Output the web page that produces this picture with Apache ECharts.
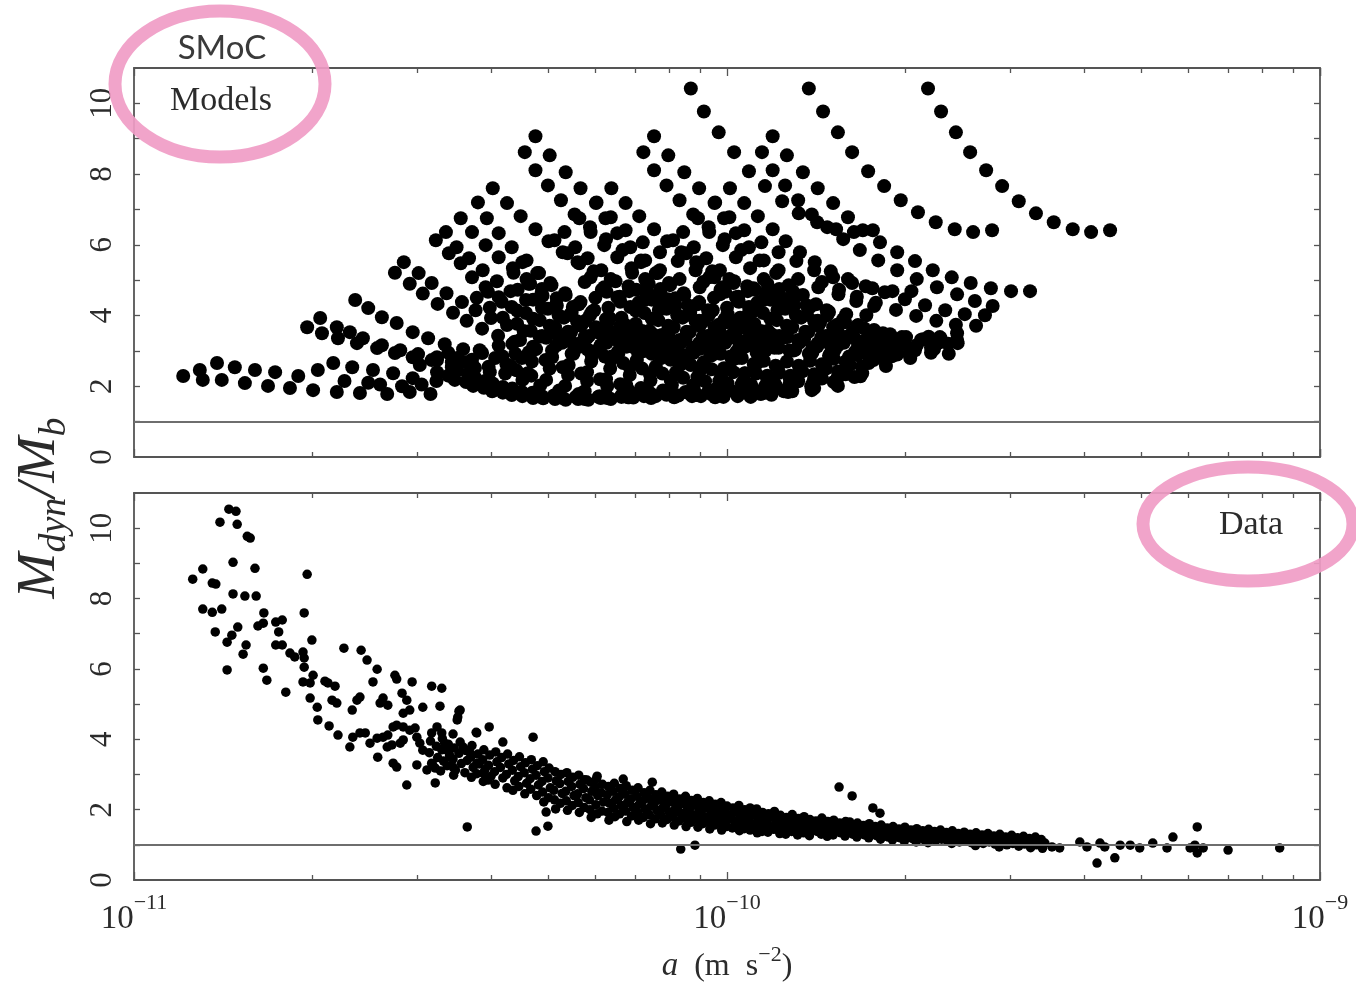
<!DOCTYPE html>
<html>
<head>
<meta charset="utf-8">
<script src="https://cdn.jsdelivr.net/npm/echarts@6/dist/echarts.min.js"></script>
<style>
  html, body { margin: 0; padding: 0; background: #ffffff; }
  #chart { width: 1356px; height: 985px; }
</style>
</head>
<body>
<div id="chart"></div>
<script>
// Each point is [log10(a / m s^-2), M_dyn / M_b].

// SMoC model sequences: the three highest tracks
const modelsHigh = [
  [-10.061,10.42],[-10.039,9.77],[-10.014,9.18],[-9.988,8.62],[-9.963,8.08],[-9.936,7.66],[-9.907,7.23],[-9.879,6.89],[-9.848,6.64],[-9.816,6.44],[-9.786,6.36],[-9.754,6.41],
  [-9.862,10.42],[-9.838,9.77],[-9.813,9.18],[-9.789,8.62],[-9.762,8.08],[-9.735,7.66],[-9.707,7.26],[-9.678,6.92],[-9.648,6.64],[-9.616,6.44],[-9.585,6.36],[-9.553,6.41],
  [-9.661,10.42],[-9.639,9.77],[-9.614,9.18],[-9.590,8.62],[-9.563,8.11],[-9.536,7.66],[-9.508,7.23],[-9.479,6.89],[-9.449,6.64],[-9.417,6.44],[-9.386,6.36],[-9.354,6.41]
];

// SMoC model sequences: right-hand family
const modelsFamilyR = [
  [-9.923,9.07],[-9.899,8.53],[-9.872,8.05],[-9.847,7.60],[-9.821,7.18],[-9.796,6.78],[-9.771,6.41],[-9.742,6.07],[-9.713,5.79],[-9.683,5.54],[-9.653,5.28],[-9.621,5.08],[-9.589,4.92],[-9.555,4.77],[-9.521,4.69],[-9.489,4.69],
  [-9.941,8.62],[-9.923,8.11],[-9.902,7.68],[-9.880,7.26],[-9.857,6.86],[-9.831,6.50],[-9.804,6.16],[-9.776,5.85],[-9.745,5.56],[-9.713,5.28],[-9.680,5.03],[-9.646,4.80],[-9.612,4.60],[-9.582,4.41],[-9.552,4.27],
  [-9.995,7.60],[-9.971,7.18],[-9.948,6.81],[-9.923,6.44],[-9.901,6.10],[-9.877,5.79],[-9.852,5.51],[-9.825,5.25],[-9.796,5.03],[-9.766,4.83],[-9.734,4.66],[-9.700,4.46],[-9.666,4.29],[-9.632,4.15],[-9.599,4.04],[-9.565,4.01],
  [-10.020,7.20],[-10.005,6.75],[-9.985,6.33],[-9.963,5.93],[-9.938,5.56],[-9.917,5.20],[-9.896,4.86],[-9.872,4.58],[-9.850,4.32],[-9.828,4.10],[-9.804,3.90],[-9.779,3.73],[-9.752,3.59],[-9.725,3.47],[-9.698,3.39],[-9.670,3.33],[-9.641,3.39],[-9.612,3.50],
  [-10.049,6.75],[-10.030,6.36],[-10.007,5.99],[-9.985,5.65],[-9.961,5.34],[-9.938,5.03],[-9.912,4.75],[-9.887,4.49],[-9.860,4.24],[-9.831,4.01],[-9.801,3.81],[-9.769,3.64],[-9.737,3.50],[-9.705,3.39],[-9.673,3.31],[-9.641,3.25],[-9.611,3.22],
  [-10.074,6.36],[-10.056,5.93],[-10.035,5.62],[-10.012,5.28],[-9.988,4.97],[-9.965,4.69],[-9.939,4.44],[-9.912,4.21],[-9.884,4.01],[-9.853,3.84],[-9.821,3.67],[-9.788,3.53],[-9.754,3.42],[-9.720,3.31],
  [-10.091,6.13],[-10.069,5.76],[-10.049,5.48],[-10.030,5.08],[-10.007,4.80],[-9.985,4.52],[-9.963,4.24],[-9.939,4.07],[-9.916,3.87],[-9.890,3.67],[-9.863,3.53],[-9.833,3.42],[-9.803,3.33],[-9.769,3.28],[-9.735,3.25],
  [-10.145,5.51],[-10.120,5.20],[-10.098,4.92],[-10.073,4.63],[-10.047,4.38],[-10.024,4.15],[-9.998,3.93],[-9.971,3.73],[-9.943,3.56],[-9.912,3.42],[-9.880,3.31],[-9.847,3.22],[-9.813,3.16],[-9.779,3.14],
  [-9.840,4.95],[-9.811,4.73],[-9.781,4.53],[-9.749,4.36],[-9.715,4.16],[-9.681,3.99],[-9.647,3.85],[-9.614,3.74],[-9.580,3.71],
  [-9.932,4.90],[-9.911,4.56],[-9.887,4.28],[-9.865,4.02],[-9.843,3.80],[-9.819,3.60],[-9.794,3.43],[-9.767,3.29],[-9.740,3.17],[-9.713,3.09],[-9.685,3.03],[-9.656,3.09],[-9.627,3.20],
  [-9.953,4.73],[-9.927,4.45],[-9.902,4.19],[-9.875,3.94],[-9.846,3.71],[-9.816,3.51],[-9.784,3.34],[-9.752,3.20],[-9.720,3.09],[-9.688,3.01],[-9.656,2.95],[-9.626,2.92],
  [-10.003,4.67],[-9.980,4.39],[-9.954,4.14],[-9.927,3.91],[-9.899,3.71],[-9.868,3.54],[-9.836,3.37],[-9.803,3.23],[-9.769,3.12],[-9.735,3.01],
  [-10.022,4.50],[-10.000,4.22],[-9.978,3.94],[-9.954,3.77],[-9.931,3.57],[-9.905,3.37],[-9.878,3.23],[-9.848,3.12],[-9.818,3.03],[-9.784,2.98],[-9.750,2.95],
  [-10.160,5.21],[-10.135,4.90],[-10.113,4.62],[-10.088,4.33],[-10.062,4.08],[-10.039,3.85],[-10.013,3.63],[-9.986,3.43],[-9.958,3.26],[-9.927,3.12],[-9.895,3.01],[-9.862,2.92],[-9.828,2.86],[-9.794,2.84]
];

// SMoC model sequences: middle family
const modelsFamilyM = [
  [-10.123,9.07],[-10.099,8.53],[-10.072,8.05],[-10.047,7.60],[-10.021,7.18],[-9.996,6.78],[-9.971,6.41],[-9.942,6.07],[-9.913,5.79],[-9.883,5.54],[-9.853,5.28],[-9.821,5.08],[-9.789,4.92],[-9.755,4.77],[-9.721,4.69],[-9.689,4.69],
  [-10.141,8.62],[-10.123,8.11],[-10.102,7.68],[-10.080,7.26],[-10.057,6.86],[-10.031,6.50],[-10.004,6.16],[-9.976,5.85],[-9.945,5.56],[-9.913,5.28],[-9.880,5.03],[-9.846,4.80],[-9.812,4.60],[-9.782,4.41],[-9.752,4.27],
  [-10.195,7.60],[-10.171,7.18],[-10.148,6.81],[-10.123,6.44],[-10.101,6.10],[-10.077,5.79],[-10.052,5.51],[-10.025,5.25],[-9.996,5.03],[-9.966,4.83],[-9.934,4.66],[-9.900,4.46],[-9.866,4.29],[-9.832,4.15],[-9.799,4.04],[-9.765,4.01],
  [-10.220,7.20],[-10.205,6.75],[-10.185,6.33],[-10.163,5.93],[-10.138,5.56],[-10.117,5.20],[-10.096,4.86],[-10.072,4.58],[-10.050,4.32],[-10.028,4.10],[-10.004,3.90],[-9.979,3.73],[-9.952,3.59],[-9.925,3.47],[-9.898,3.39],[-9.870,3.33],[-9.841,3.39],[-9.812,3.50],
  [-10.249,6.75],[-10.230,6.36],[-10.207,5.99],[-10.185,5.65],[-10.161,5.34],[-10.138,5.03],[-10.112,4.75],[-10.087,4.49],[-10.060,4.24],[-10.031,4.01],[-10.001,3.81],[-9.969,3.64],[-9.937,3.50],[-9.905,3.39],[-9.873,3.31],[-9.841,3.25],[-9.811,3.22],
  [-10.274,6.36],[-10.256,5.93],[-10.235,5.62],[-10.212,5.28],[-10.188,4.97],[-10.165,4.69],[-10.139,4.44],[-10.112,4.21],[-10.084,4.01],[-10.053,3.84],[-10.021,3.67],[-9.988,3.53],[-9.954,3.42],[-9.920,3.31],
  [-10.291,6.13],[-10.269,5.76],[-10.249,5.48],[-10.230,5.08],[-10.207,4.80],[-10.185,4.52],[-10.163,4.24],[-10.139,4.07],[-10.116,3.87],[-10.090,3.67],[-10.063,3.53],[-10.033,3.42],[-10.003,3.33],[-9.969,3.28],[-9.935,3.25],
  [-10.345,5.51],[-10.320,5.20],[-10.298,4.92],[-10.273,4.63],[-10.247,4.38],[-10.224,4.15],[-10.198,3.93],[-10.171,3.73],[-10.143,3.56],[-10.112,3.42],[-10.080,3.31],[-10.047,3.22],[-10.013,3.16],[-9.979,3.14],
  [-10.040,4.95],[-10.011,4.73],[-9.981,4.53],[-9.949,4.36],[-9.915,4.16],[-9.881,3.99],[-9.847,3.85],[-9.814,3.74],[-9.780,3.71],
  [-10.132,4.90],[-10.111,4.56],[-10.087,4.28],[-10.065,4.02],[-10.043,3.80],[-10.019,3.60],[-9.994,3.43],[-9.967,3.29],[-9.940,3.17],[-9.913,3.09],[-9.885,3.03],[-9.856,3.09],[-9.827,3.20],
  [-10.153,4.73],[-10.127,4.45],[-10.102,4.19],[-10.075,3.94],[-10.046,3.71],[-10.016,3.51],[-9.984,3.34],[-9.952,3.20],[-9.920,3.09],[-9.888,3.01],[-9.856,2.95],[-9.826,2.92],
  [-10.203,4.67],[-10.180,4.39],[-10.154,4.14],[-10.127,3.91],[-10.099,3.71],[-10.068,3.54],[-10.036,3.37],[-10.003,3.23],[-9.969,3.12],[-9.935,3.01],
  [-10.222,4.50],[-10.200,4.22],[-10.178,3.94],[-10.154,3.77],[-10.131,3.57],[-10.105,3.37],[-10.078,3.23],[-10.048,3.12],[-10.018,3.03],[-9.984,2.98],[-9.950,2.95],
  [-10.360,5.21],[-10.335,4.90],[-10.313,4.62],[-10.288,4.33],[-10.262,4.08],[-10.239,3.85],[-10.213,3.63],[-10.186,3.43],[-10.158,3.26],[-10.127,3.12],[-10.095,3.01],[-10.062,2.92],[-10.028,2.86],[-9.994,2.84]
];

// SMoC model sequences: left family
const modelsFamilyL = [
  [-10.323,9.07],[-10.299,8.53],[-10.272,8.05],[-10.247,7.60],[-10.221,7.18],[-10.196,6.78],[-10.171,6.41],[-10.142,6.07],[-10.113,5.79],[-10.083,5.54],[-10.053,5.28],[-10.021,5.08],[-9.989,4.92],[-9.955,4.77],[-9.921,4.69],[-9.889,4.69],
  [-10.341,8.62],[-10.323,8.11],[-10.302,7.68],[-10.280,7.26],[-10.257,6.86],[-10.231,6.50],[-10.204,6.16],[-10.176,5.85],[-10.145,5.56],[-10.113,5.28],[-10.080,5.03],[-10.046,4.80],[-10.012,4.60],[-9.982,4.41],[-9.952,4.27],
  [-10.395,7.60],[-10.371,7.18],[-10.348,6.81],[-10.323,6.44],[-10.301,6.10],[-10.277,5.79],[-10.252,5.51],[-10.225,5.25],[-10.196,5.03],[-10.166,4.83],[-10.134,4.66],[-10.100,4.46],[-10.066,4.29],[-10.032,4.15],[-9.999,4.04],[-9.965,4.01],
  [-10.420,7.20],[-10.405,6.75],[-10.385,6.33],[-10.363,5.93],[-10.338,5.56],[-10.317,5.20],[-10.296,4.86],[-10.272,4.58],[-10.250,4.32],[-10.228,4.10],[-10.204,3.90],[-10.179,3.73],[-10.152,3.59],[-10.125,3.47],[-10.098,3.39],[-10.070,3.33],[-10.041,3.39],[-10.012,3.50],
  [-10.449,6.75],[-10.430,6.36],[-10.407,5.99],[-10.385,5.65],[-10.361,5.34],[-10.338,5.03],[-10.312,4.75],[-10.287,4.49],[-10.260,4.24],[-10.231,4.01],[-10.201,3.81],[-10.169,3.64],[-10.137,3.50],[-10.105,3.39],[-10.073,3.31],[-10.041,3.25],[-10.011,3.22],
  [-10.474,6.36],[-10.456,5.93],[-10.435,5.62],[-10.412,5.28],[-10.388,4.97],[-10.365,4.69],[-10.339,4.44],[-10.312,4.21],[-10.284,4.01],[-10.253,3.84],[-10.221,3.67],[-10.188,3.53],[-10.154,3.42],[-10.120,3.31],
  [-10.491,6.13],[-10.469,5.76],[-10.449,5.48],[-10.430,5.08],[-10.407,4.80],[-10.385,4.52],[-10.363,4.24],[-10.339,4.07],[-10.316,3.87],[-10.290,3.67],[-10.263,3.53],[-10.233,3.42],[-10.203,3.33],[-10.169,3.28],[-10.135,3.25],
  [-10.545,5.51],[-10.520,5.20],[-10.498,4.92],[-10.473,4.63],[-10.447,4.38],[-10.424,4.15],[-10.398,3.93],[-10.371,3.73],[-10.343,3.56],[-10.312,3.42],[-10.280,3.31],[-10.247,3.22],[-10.213,3.16],[-10.179,3.14],
  [-10.240,4.95],[-10.211,4.73],[-10.181,4.53],[-10.149,4.36],[-10.115,4.16],[-10.081,3.99],[-10.047,3.85],[-10.014,3.74],[-9.980,3.71],
  [-10.332,4.90],[-10.311,4.56],[-10.287,4.28],[-10.265,4.02],[-10.243,3.80],[-10.219,3.60],[-10.194,3.43],[-10.167,3.29],[-10.140,3.17],[-10.113,3.09],[-10.085,3.03],[-10.056,3.09],[-10.027,3.20],
  [-10.353,4.73],[-10.327,4.45],[-10.302,4.19],[-10.275,3.94],[-10.246,3.71],[-10.216,3.51],[-10.184,3.34],[-10.152,3.20],[-10.120,3.09],[-10.088,3.01],[-10.056,2.95],[-10.026,2.92],
  [-10.403,4.67],[-10.380,4.39],[-10.354,4.14],[-10.327,3.91],[-10.299,3.71],[-10.268,3.54],[-10.236,3.37],[-10.203,3.23],[-10.169,3.12],[-10.135,3.01],
  [-10.422,4.50],[-10.400,4.22],[-10.378,3.94],[-10.354,3.77],[-10.331,3.57],[-10.305,3.37],[-10.278,3.23],[-10.248,3.12],[-10.218,3.03],[-10.184,2.98],[-10.150,2.95],
  [-10.560,5.21],[-10.535,4.90],[-10.513,4.62],[-10.488,4.33],[-10.462,4.08],[-10.439,3.85],[-10.413,3.63],[-10.386,3.43],[-10.358,3.26],[-10.327,3.12],[-10.295,3.01],[-10.262,2.92],[-10.228,2.86],[-10.194,2.84]
];

// SMoC model sequences: low-acceleration tail
const modelsTail = [
  [-10.917,2.29],[-10.889,2.46],[-10.884,2.18],[-10.860,2.66],[-10.852,2.18],[-10.830,2.54],[-10.813,2.09],[-10.796,2.46],[-10.774,2.01],[-10.762,2.40],[-10.737,1.95],[-10.723,2.29],[-10.698,1.89],[-10.690,2.46],[-10.664,2.66],[-10.658,1.84],[-10.632,2.54],[-10.619,1.81],[-10.597,2.46],[-10.573,1.78],[-10.563,2.37],[-10.535,1.84],[-10.530,2.23],
  [-10.645,2.15],[-10.605,2.10],[-10.585,2.05],[-10.548,2.00],[-10.515,2.05],[-10.500,1.78],[-10.490,2.15],
  [-10.708,3.67],[-10.683,3.50],[-10.656,3.36],[-10.624,3.22],[-10.590,3.08],[-10.560,2.94],[-10.530,2.82],[-10.498,2.74],[-10.464,2.68],[-10.430,2.63],
  [-10.686,3.93],[-10.658,3.67],[-10.636,3.53],[-10.614,3.36],[-10.582,3.16],[-10.551,3.02],[-10.521,2.91],[-10.489,2.82],
  [-10.627,4.44],[-10.605,4.21],[-10.582,3.95],[-10.557,3.79],[-10.530,3.53],[-10.504,3.36],[-10.476,3.19],[-10.445,3.05],[-10.413,2.94],[-10.379,2.85],[-10.346,2.80],
  [-10.470,2.95],[-10.455,2.80],[-10.440,2.68],[-10.425,2.52],[-10.400,2.40],[-10.372,2.62],[-10.355,2.45],[-10.330,2.30]
];

// SMoC model sequences: lowest band
const modelsLow = [
  [-10.518,2.60],[-10.489,2.40],[-10.459,2.18],[-10.428,2.01],[-10.396,1.86],[-10.363,1.75],[-10.327,1.67],[-10.290,1.64],[-10.251,1.64],[-10.213,1.67],[-10.174,1.72],[-10.135,1.81],[-10.096,1.89],
  [-10.489,2.74],[-10.464,2.54],[-10.437,2.34],[-10.408,2.15],[-10.378,1.98],[-10.346,1.84],[-10.312,1.72],[-10.277,1.67],[-10.240,1.64],[-10.202,1.67],[-10.165,1.69],
  [-10.417,3.02],[-10.391,2.80],[-10.364,2.57],[-10.336,2.37],[-10.305,2.18],[-10.273,2.01],[-10.240,1.86],[-10.204,1.75],[-10.167,1.69],[-10.128,1.67],[-10.089,1.69],[-10.051,1.75],[-10.012,1.84],
  [-10.349,3.31],[-10.322,3.05],[-10.295,2.82],[-10.267,2.60],[-10.236,2.40],[-10.204,2.20],[-10.170,2.03],[-10.135,1.89],[-10.098,1.78],[-10.059,1.72],[-10.020,1.69],[-9.982,1.72],[-9.943,1.78],[-9.904,1.86],
  [-10.282,3.45],[-10.255,3.19],[-10.226,2.97],[-10.196,2.74],[-10.164,2.54],[-10.130,2.34],[-10.095,2.18],[-10.057,2.03],[-10.019,1.92],[-9.978,1.84],[-9.938,1.81],[-9.897,1.84],[-9.857,1.89],
  [-10.197,3.45],[-10.170,3.22],[-10.142,2.99],[-10.111,2.80],[-10.079,2.60],[-10.046,2.43],[-10.010,2.26],[-9.973,2.12],[-9.934,2.01],[-9.894,1.95],[-9.853,1.95],[-9.813,2.01],
  [-10.130,3.31],[-10.101,3.08],[-10.071,2.88],[-10.039,2.68],[-10.005,2.51],[-9.970,2.37],[-9.933,2.26],[-9.894,2.20],[-9.853,2.20],[-9.813,2.26],[-9.772,2.37],[-9.732,2.57],[-9.691,2.80],[-9.651,3.05],[-9.612,3.31],
  [-10.046,3.16],[-10.015,2.97],[-9.983,2.80],[-9.949,2.66],[-9.914,2.54],[-9.877,2.49],[-9.838,2.49],[-9.799,2.54],[-9.761,2.66],[-9.722,2.85],[-9.683,3.02],[-9.644,3.22],
  [-10.455,2.45],[-10.425,2.25],[-10.395,2.08],[-10.362,1.94],[-10.328,1.82],[-10.292,1.74],[-10.255,1.70],[-10.217,1.70],[-10.178,1.74],[-10.140,1.78],
  [-10.385,3.15],[-10.357,2.92],[-10.329,2.70],[-10.299,2.50],[-10.268,2.32],[-10.236,2.15],[-10.202,2.00],[-10.166,1.88],[-10.129,1.80],[-10.091,1.76],[-10.052,1.76],[-10.013,1.78],[-9.975,1.82],
  [-10.316,3.40],[-10.288,3.15],[-10.259,2.92],[-10.229,2.70],[-10.197,2.50],[-10.164,2.32],[-10.129,2.16],[-10.093,2.03],[-10.056,1.93],[-10.017,1.86],[-9.978,1.84],[-9.938,1.86],[-9.898,1.92],[-9.858,2.00],
  [-10.240,3.40],[-10.212,3.16],[-10.183,2.94],[-10.152,2.74],[-10.120,2.56],[-10.086,2.40],[-10.050,2.26],[-10.013,2.14],[-9.975,2.06],[-9.935,2.02],[-9.895,2.04],[-9.855,2.10],[-9.815,2.18],[-9.775,2.28],
  [-10.165,3.38],[-10.136,3.15],[-10.106,2.94],[-10.074,2.76],[-10.041,2.60],[-10.006,2.46],[-9.970,2.36],[-9.932,2.30],[-9.893,2.30],[-9.853,2.34],[-9.813,2.42],[-9.773,2.55],[-9.733,2.72],[-9.693,2.92],[-9.655,3.14],
  [-10.090,3.25],[-10.058,3.05],[-10.025,2.88],[-9.991,2.74],[-9.955,2.63],[-9.918,2.58],[-9.879,2.58],[-9.840,2.62],[-9.800,2.70],[-9.760,2.82],[-9.720,2.98],[-9.680,3.16],[-9.640,3.36],
  [-9.960,1.70],[-9.925,1.76],[-9.890,1.86],[-9.855,1.98],[-9.820,2.12],[-9.785,2.26],
  [-10.470,2.30],[-10.440,2.12],[-10.410,1.96],[-10.378,1.82],[-10.345,1.72],[-10.310,1.66],[-10.272,1.62],[-10.234,1.62],[-10.196,1.64],[-10.158,1.68],[-10.120,1.72],[-10.082,1.74],[-10.044,1.72],[-10.006,1.70],
  [-10.430,2.75],[-10.402,2.55],[-10.374,2.36],[-10.345,2.18],[-10.315,2.02],[-10.283,1.88],[-10.250,1.78],[-10.215,1.72],[-10.178,1.70],[-10.140,1.72],[-10.102,1.76],[-10.064,1.80],[-10.025,1.76],
  [-10.362,3.20],[-10.334,2.96],[-10.306,2.74],[-10.277,2.54],[-10.246,2.36],[-10.214,2.20],[-10.180,2.06],[-10.145,1.95],[-10.108,1.88],[-10.070,1.84],[-10.032,1.84],[-9.994,1.88],[-9.956,1.94],[-9.918,2.02],
  [-10.290,3.50],[-10.263,3.26],[-10.235,3.04],[-10.206,2.84],[-10.175,2.66],[-10.143,2.50],[-10.109,2.36],[-10.074,2.24],[-10.037,2.14],[-9.999,2.08],[-9.960,2.06],[-9.920,2.08],[-9.880,2.14],[-9.840,2.22],[-9.800,2.34],
  [-10.215,3.55],[-10.187,3.32],[-10.158,3.11],[-10.127,2.92],[-10.095,2.75],[-10.061,2.60],[-10.026,2.48],[-9.989,2.40],[-9.951,2.36],[-9.912,2.38],[-9.873,2.42],[-9.833,2.50],[-9.793,2.60],[-9.753,2.74],[-9.713,2.90],
  [-10.110,3.45],[-10.078,3.24],[-10.045,3.06],[-10.011,2.92],[-9.975,2.80],[-9.938,2.72],[-9.899,2.70],[-9.860,2.72],[-9.820,2.78],[-9.780,2.88],[-9.740,3.02],[-9.700,3.20],[-9.660,3.40]
];

// Observed galaxies: scattered points away from the main ridge
const dataSpread = [
  [-10.901,8.55],[-10.884,8.84],[-10.868,8.44],[-10.862,8.41],[-10.884,7.70],[-10.868,7.61],[-10.852,7.70],[-10.863,7.05],[-10.855,10.17],[-10.840,10.54],[-10.828,10.48],[-10.826,10.11],[-10.809,9.77],[-10.804,9.72],[-10.833,9.03],[-10.796,8.86],[-10.833,8.13],[-10.813,8.07],[-10.794,8.07],[-10.781,7.59],
  [-10.791,7.22],[-10.782,7.30],[-10.825,7.19],[-10.843,6.76],[-10.835,6.96],[-10.811,6.68],[-10.816,6.42],[-10.843,5.97],[-10.782,6.02],[-10.776,5.68],[-10.744,5.34],[-10.761,7.33],[-10.750,7.39],[-10.756,7.05],[-10.761,6.68],[-10.750,6.68],[-10.737,6.45],[-10.729,6.34],[-10.715,6.48],[-10.713,6.31],
  [-10.713,6.05],[-10.708,8.69],[-10.713,7.59],[-10.700,6.82],[-10.698,5.82],[-10.715,5.63],[-10.703,5.60],[-10.703,5.17],[-10.691,4.91],[-10.690,4.55],[-10.678,5.65],[-10.673,5.60],[-10.661,5.51],[-10.666,5.11],[-10.658,5.03],[-10.671,4.38],[-10.656,4.12],[-10.646,6.59],[-10.617,6.53],[-10.607,6.25],
  [-10.590,5.99],[-10.597,5.63],[-10.560,5.82],[-10.557,5.71],[-10.531,5.63],[-10.498,5.51],[-10.481,5.45],[-10.632,4.83],[-10.624,5.11],[-10.619,5.20],[-10.585,5.03],[-10.580,5.17],[-10.572,4.97],[-10.548,5.31],[-10.540,5.11],[-10.535,4.83],[-10.546,4.74],[-10.513,4.91],[-10.484,4.94],[-10.452,4.80],
  [-10.454,4.63],[-10.636,3.78],[-10.631,4.06],[-10.619,4.18],[-10.610,4.18],[-10.602,3.89],[-10.590,4.03],[-10.580,4.06],[-10.572,4.12],[-10.563,4.35],[-10.557,4.40],[-10.589,3.49],[-10.563,3.32],[-10.557,3.21],[-10.573,3.78],[-10.565,3.84],[-10.551,3.89],[-10.546,3.98],[-10.540,2.70],[-10.546,4.35],
  [-10.535,4.26],[-10.526,4.32],[-10.523,4.06],[-10.518,3.89],[-10.513,3.69],[-10.523,3.27],[-10.506,3.13],[-10.498,3.32],[-10.492,2.76],[-10.498,4.18],[-10.489,4.35],[-10.481,4.18],[-10.476,3.89],[-10.472,3.69],[-10.467,3.49],[-10.462,3.21],[-10.462,4.15],[-10.445,3.78],[-10.433,3.61],[-10.422,3.32],
  [-10.411,3.04],[-10.403,2.84],[-10.450,4.83],[-10.422,4.18],[-10.401,4.35],[-10.378,3.92],[-10.438,1.51],[-10.455,4.55],[-10.423,4.20],[-10.327,4.06],[-10.126,2.78],[-10.175,2.87],[-10.219,2.95],[-10.236,2.84],[-9.811,2.64],[-9.789,2.39],[-9.754,2.05],[-9.742,1.90],[-9.793,1.65],[-10.322,1.39],
  [-10.302,1.53],[-10.078,0.88],[-10.054,0.99],[-10.305,1.93],[-10.007,2.07],[-9.961,2.05],
  [-9.464,1.05],[-9.452,0.94],[-9.439,0.91],[-9.405,1.08],[-9.393,0.94],[-9.376,0.48],[-9.371,1.05],[-9.363,0.94],[-9.346,0.63],[-9.337,0.99],[-9.320,0.99],[-9.304,0.91],[-9.282,1.05],[-9.258,0.91],[-9.248,1.22],[-9.207,1.51],[-9.219,0.91],[-9.211,0.99],[-9.207,0.77],[-9.197,0.91],
  [-9.155,0.85],[-9.068,0.91]
];

// Observed galaxies: the dense ridge
const dataRidge = [
  [-10.500,3.95],[-10.502,3.62],[-10.497,3.30],[-10.490,3.80],[-10.488,3.48],[-10.492,3.18],[-10.480,4.02],[-10.481,3.70],[-10.478,3.38],[-10.483,3.10],
  [-10.470,3.86],[-10.468,3.55],[-10.472,3.25],[-10.460,3.75],[-10.462,3.44],[-10.458,3.12],[-10.461,2.98],[-10.450,3.92],[-10.452,3.60],[-10.448,3.31],
  [-10.440,3.68],[-10.438,3.40],[-10.442,3.05],[-10.430,3.82],[-10.432,3.50],[-10.428,3.20],[-10.431,2.92],[-10.420,3.58],[-10.418,3.30],[-10.422,3.02],
  [-10.410,3.70],[-10.412,3.42],[-10.408,3.14],[-10.411,2.80],[-10.400,3.55],[-10.402,3.26],[-10.398,2.95],[-10.390,3.64],[-10.388,3.36],[-10.392,3.08],
  [-10.391,2.72],[-10.380,3.48],[-10.382,3.20],[-10.378,2.90],[-10.370,3.58],[-10.368,3.30],[-10.372,3.00],[-10.371,2.62],[-10.360,3.40],[-10.362,3.12],
  [-10.358,2.82],[-10.361,2.55],[-10.350,3.50],[-10.348,3.22],[-10.352,2.94],[-10.351,2.66],[-10.340,3.33],[-10.342,3.05],[-10.338,2.75],[-10.341,2.45],
  [-10.330,3.42],[-10.328,3.15],[-10.332,2.88],[-10.331,2.58],[-10.320,3.25],[-10.322,2.98],[-10.318,2.70],[-10.321,2.40],[-10.310,3.36],[-10.308,3.08],
  [-10.312,2.80],[-10.311,2.50],[-10.309,2.22],[-10.300,3.18],[-10.302,2.90],[-10.298,2.62],[-10.301,2.34],[-10.290,3.08],[-10.288,2.82],[-10.292,2.55],
  [-10.291,2.28],[-10.289,2.02],[-10.280,3.00],[-10.282,2.74],[-10.278,2.46],[-10.281,2.18],[-10.270,3.05],[-10.268,2.80],[-10.272,2.52],[-10.271,2.25],
  [-10.269,1.98],[-10.260,2.92],[-10.262,2.66],[-10.258,2.40],[-10.261,2.12],[-10.250,2.98],[-10.248,2.72],[-10.252,2.45],[-10.251,2.20],[-10.249,1.92],
  [-10.240,2.85],[-10.242,2.60],[-10.238,2.34],[-10.241,2.06],[-10.230,2.78],[-10.228,2.52],[-10.232,2.28],[-10.231,2.00],[-10.229,1.78],[-10.220,2.88],
  [-10.222,2.64],[-10.218,2.40],[-10.221,2.14],[-10.219,1.88],[-10.210,2.72],[-10.212,2.48],[-10.208,2.22],[-10.211,1.96],[-10.200,2.66],[-10.202,2.42],
  [-10.198,2.18],[-10.201,1.92],[-10.199,1.70],[-10.190,2.75],[-10.192,2.52],[-10.188,2.28],[-10.191,2.04],[-10.189,1.80],[-10.180,2.60],[-10.182,2.36],
  [-10.178,2.12],[-10.181,1.88],[-10.170,2.68],[-10.172,2.44],[-10.168,2.20],[-10.171,1.96],[-10.169,1.66],[-10.160,2.55],[-10.162,2.30],[-10.158,2.06],
  [-10.161,1.82],[-10.150,2.62],[-10.152,2.38],[-10.148,2.15],[-10.151,1.92],[-10.149,1.70],[-10.140,2.48],[-10.142,2.25],[-10.138,2.02],[-10.141,1.78],
  [-10.130,2.55],[-10.132,2.32],[-10.128,2.10],[-10.131,1.86],[-10.129,1.60],[-10.120,2.42],[-10.122,2.20],[-10.118,1.98],[-10.121,1.74],[-10.110,2.50],
  [-10.112,2.28],[-10.108,2.06],[-10.111,1.84],[-10.109,1.62],[-10.100,2.38],[-10.102,2.16],[-10.098,1.94],[-10.101,1.72],[-10.090,2.44],[-10.092,2.22],
  [-10.088,2.00],[-10.091,1.80],[-10.089,1.56],[-10.080,2.30],[-10.082,2.10],[-10.078,1.90],[-10.081,1.68],[-10.070,2.38],[-10.072,2.16],[-10.068,1.96],
  [-10.071,1.75],[-10.069,1.52],[-10.060,2.26],[-10.062,2.05],[-10.058,1.85],[-10.061,1.64],[-10.050,2.32],[-10.052,2.12],[-10.048,1.92],[-10.051,1.72],
  [-10.049,1.50],[-10.040,2.20],[-10.042,2.00],[-10.038,1.80],[-10.041,1.60],[-10.030,2.25],[-10.032,2.06],[-10.028,1.86],[-10.031,1.66],[-10.029,1.45],
  [-10.020,2.15],[-10.022,1.95],[-10.018,1.76],[-10.021,1.56],[-10.010,2.20],[-10.012,2.00],[-10.008,1.82],[-10.011,1.62],[-10.009,1.42],[-10.000,2.10],
  [-10.002,1.90],[-9.998,1.72],[-10.001,1.52],[-9.990,2.05],[-9.992,1.86],[-9.988,1.68],[-9.991,1.48],[-9.980,2.12],[-9.982,1.94],[-9.978,1.76],
  [-9.981,1.58],[-9.979,1.40],[-9.970,2.00],[-9.972,1.82],[-9.968,1.64],[-9.971,1.46],[-9.960,1.95],[-9.962,1.78],[-9.958,1.60],[-9.961,1.42],
  [-9.950,2.02],[-9.952,1.85],[-9.948,1.68],[-9.951,1.50],[-9.949,1.34],[-9.940,1.92],[-9.942,1.74],[-9.938,1.56],[-9.941,1.38],[-9.930,1.88],
  [-9.932,1.70],[-9.928,1.52],[-9.931,1.36],[-9.920,1.95],[-9.922,1.78],[-9.918,1.60],[-9.921,1.44],[-9.910,1.84],[-9.912,1.66],[-9.908,1.48],
  [-9.911,1.32],[-9.900,1.78],[-9.902,1.62],[-9.898,1.45],[-9.901,1.30],[-9.890,1.86],[-9.892,1.70],[-9.888,1.54],[-9.891,1.38],[-9.880,1.75],
  [-9.882,1.58],[-9.878,1.42],[-9.881,1.28],[-9.870,1.80],[-9.872,1.64],[-9.868,1.48],[-9.871,1.34],[-9.860,1.72],[-9.862,1.56],[-9.858,1.40],
  [-9.861,1.26],[-9.850,1.68],[-9.852,1.52],[-9.848,1.38],[-9.840,1.76],[-9.842,1.60],[-9.838,1.45],[-9.841,1.30],[-9.830,1.66],[-9.832,1.50],
  [-9.828,1.36],[-9.831,1.24],[-9.820,1.70],[-9.822,1.55],[-9.818,1.40],[-9.821,1.28],[-9.810,1.62],[-9.812,1.48],[-9.808,1.34],[-9.800,1.66],
  [-9.802,1.52],[-9.798,1.38],[-9.801,1.25],[-9.790,1.58],[-9.792,1.44],[-9.788,1.30],[-9.780,1.62],[-9.782,1.48],[-9.778,1.35],[-9.781,1.22],
  [-9.770,1.55],[-9.772,1.42],[-9.768,1.28],[-9.760,1.60],[-9.762,1.46],[-9.758,1.32],[-9.761,1.20],[-9.750,1.52],[-9.752,1.38],[-9.748,1.26],
  [-9.740,1.56],[-9.742,1.42],[-9.738,1.30],[-9.741,1.16],[-9.730,1.48],[-9.732,1.35],[-9.728,1.22],[-9.720,1.52],[-9.722,1.40],[-9.718,1.27],
  [-9.721,1.14],[-9.710,1.45],[-9.712,1.32],[-9.708,1.20],[-9.700,1.50],[-9.702,1.36],[-9.698,1.24],[-9.701,1.10],[-9.690,1.42],[-9.692,1.30],
  [-9.688,1.18],[-9.680,1.46],[-9.682,1.33],[-9.678,1.20],[-9.681,1.08],[-9.670,1.40],[-9.672,1.27],[-9.668,1.15],[-9.660,1.44],[-9.662,1.30],
  [-9.658,1.18],[-9.661,1.06],[-9.650,1.38],[-9.652,1.25],[-9.648,1.12],[-9.640,1.42],[-9.642,1.28],[-9.638,1.16],[-9.630,1.35],[-9.632,1.22],
  [-9.628,1.10],[-9.620,1.40],[-9.622,1.26],[-9.618,1.14],[-9.621,1.04],[-9.610,1.32],[-9.612,1.20],[-9.608,1.08],[-9.600,1.36],[-9.602,1.24],
  [-9.598,1.12],[-9.590,1.30],[-9.592,1.18],[-9.588,1.06],[-9.580,1.34],[-9.582,1.22],[-9.578,1.10],[-9.581,0.98],[-9.570,1.28],[-9.572,1.16],
  [-9.568,1.04],[-9.560,1.32],[-9.562,1.20],[-9.558,1.08],[-9.550,1.25],[-9.552,1.13],[-9.548,1.02],[-9.540,1.30],[-9.542,1.18],[-9.538,1.06],
  [-9.541,0.94],[-9.530,1.22],[-9.532,1.10],[-9.528,1.00],[-9.520,1.27],[-9.522,1.15],[-9.518,1.04],[-9.510,1.20],[-9.512,1.08],[-9.508,0.96],
  [-9.500,1.24],[-9.502,1.12],[-9.498,1.02],[-9.490,1.18],[-9.492,1.06],[-9.488,0.92],[-9.480,1.22],[-9.482,1.10],[-9.478,1.00],[-9.470,1.15],
  [-9.472,1.04],[-9.468,0.90]
];

// Axis ticks and labels
const minorTicks = [2e-11, 3e-11, 4e-11, 5e-11, 6e-11, 7e-11, 8e-11, 9e-11,
                    2e-10, 3e-10, 4e-10, 5e-10, 6e-10, 7e-10, 8e-10, 9e-10];
const ratioLabels = [0, 2, 4, 6, 8, 10];
const ratioTicks = [1, 2, 3, 4, 5, 6, 7, 8, 9, 10];
const referenceRatio = 1;

const SERIF = '"Liberation Serif", "DejaVu Serif", serif';
const FRAME = '#555555';
const INK = '#2b2b2b';

const toAxisPoints = pairs => pairs.map(([lg, r]) => [Math.pow(10, lg), r]);

function xAxesFor(gridIndex, withLabels) {
  const base = {
    type: 'log', logBase: 10, min: 1e-11, max: 1e-9, gridIndex,
    splitLine: { show: false }, silent: true
  };
  const tickStyle = { color: FRAME, width: 1.3 };
  const labels = withLabels ? {
    show: true, margin: 23, color: INK,
    formatter: v => '{b|10}{s|\u2212' + Math.round(-Math.log10(v)) + '}',
    rich: {
      b: { fontFamily: SERIF, fontSize: 33, lineHeight: 33, color: INK, verticalAlign: 'bottom' },
      s: { fontFamily: SERIF, fontSize: 22, lineHeight: 22, color: INK, padding: [0, 0, 22, 0], verticalAlign: 'bottom' }
    }
  } : { show: false };
  return [
    Object.assign({}, base, {
      position: 'bottom',
      axisLine: { show: true, lineStyle: { color: FRAME, width: 1.8 } },
      axisTick: { show: true, inside: true, length: 8, lineStyle: tickStyle },
      axisLabel: labels
    }),
    Object.assign({}, base, {
      position: 'bottom',
      axisLine: { show: false },
      axisTick: { show: true, inside: true, length: 5, lineStyle: tickStyle, customValues: minorTicks },
      axisLabel: { show: false }
    }),
    Object.assign({}, base, {
      position: 'top',
      axisLine: { show: true, lineStyle: { color: FRAME, width: 1.8 } },
      axisTick: { show: true, inside: true, length: 8, lineStyle: tickStyle },
      axisLabel: { show: false }
    }),
    Object.assign({}, base, {
      position: 'top',
      axisLine: { show: false },
      axisTick: { show: true, inside: true, length: 5, lineStyle: tickStyle, customValues: minorTicks },
      axisLabel: { show: false }
    })
  ];
}

function yAxesFor(gridIndex) {
  const base = { type: 'value', min: 0, max: 11, gridIndex, splitLine: { show: false }, silent: true };
  const tickStyle = { color: FRAME, width: 1.3 };
  return [
    Object.assign({}, base, {
      position: 'left',
      axisLine: { show: true, lineStyle: { color: FRAME, width: 1.8 } },
      axisTick: { show: true, inside: true, length: 6, lineStyle: tickStyle, customValues: ratioTicks },
      axisLabel: {
        show: true, customValues: ratioLabels, rotate: 90, margin: 16,
        fontFamily: SERIF, fontSize: 31, color: INK
      }
    }),
    Object.assign({}, base, {
      position: 'right',
      axisLine: { show: true, lineStyle: { color: FRAME, width: 1.8 } },
      axisTick: { show: true, inside: true, length: 6, lineStyle: tickStyle, customValues: ratioTicks },
      axisLabel: { show: false }
    })
  ];
}

const unityLine = {
  silent: true, symbol: ['none', 'none'], animation: false,
  label: { show: false },
  lineStyle: { color: '#6e6e6e', width: 2, type: 'solid' },
  data: [{ yAxis: referenceRatio }]
};

const modelPoints = toAxisPoints([].concat(modelsTail, modelsLow, modelsFamilyL, modelsFamilyM, modelsFamilyR, modelsHigh));
const dataPoints = toAxisPoints([].concat(dataRidge, dataSpread));

const chart = echarts.init(document.getElementById('chart'), null, { renderer: 'canvas' });

chart.setOption({
  animation: false,
  backgroundColor: '#ffffff',
  grid: [
    { left: 134, right: 36, top: 68, height: 389, containLabel: false, outerBoundsMode: 'none' },
    { left: 134, right: 36, top: 493, height: 387, containLabel: false, outerBoundsMode: 'none' }
  ],
  xAxis: [].concat(xAxesFor(0, false), xAxesFor(1, true)),
  yAxis: [].concat(yAxesFor(0), yAxesFor(1)),
  series: [
    {
      name: 'SMoC models', type: 'scatter', xAxisIndex: 0, yAxisIndex: 0,
      data: modelPoints, symbol: 'circle', symbolSize: 14,
      itemStyle: { color: '#000000', opacity: 1 },
      markLine: unityLine, silent: true
    },
    {
      name: 'Data', type: 'scatter', xAxisIndex: 4, yAxisIndex: 2,
      data: dataPoints, symbol: 'circle', symbolSize: 9.5,
      itemStyle: { color: '#000000', opacity: 1 },
      markLine: unityLine, silent: true
    }
  ],
  graphic: [
    {
      type: 'text', x: 40, y: 508, rotation: Math.PI / 2, silent: true,
      style: {
        text: '{m|M}{s|dyn}{m|/M}{s|b}',
        align: 'center', verticalAlign: 'middle',
        rich: {
          m: { fontFamily: SERIF, fontStyle: 'italic', fontSize: 55, lineHeight: 55, fill: INK, verticalAlign: 'top' },
          s: { fontFamily: SERIF, fontStyle: 'italic', fontSize: 38, lineHeight: 38, fill: INK, padding: [24, 0, 0, 0], verticalAlign: 'top' }
        }
      }
    },
    {
      type: 'text', x: 727, y: 966, silent: true,
      style: {
        text: '{i|a}{n|  (m  s}{s|\u22122}{n|)}',
        align: 'center', verticalAlign: 'middle',
        rich: {
          i: { fontFamily: SERIF, fontStyle: 'italic', fontSize: 33, lineHeight: 33, fill: INK, verticalAlign: 'bottom' },
          n: { fontFamily: SERIF, fontSize: 32, lineHeight: 32, fill: INK, verticalAlign: 'bottom' },
          s: { fontFamily: SERIF, fontSize: 22, lineHeight: 22, fill: INK, padding: [0, 0, 16, 0], verticalAlign: 'bottom' }
        }
      }
    },
    {
      type: 'text', x: 221, y: 101, silent: true,
      style: { text: 'Models', font: '34px ' + SERIF, fill: INK, align: 'center', verticalAlign: 'middle' }
    },
    {
      type: 'text', x: 1251, y: 525, silent: true,
      style: { text: 'Data', font: '34px ' + SERIF, fill: INK, align: 'center', verticalAlign: 'middle' }
    },
    {
      type: 'text', x: 222, y: 48, silent: true,
      style: { text: 'SMoC', font: '33px Lato, "Open Sans", sans-serif', fill: '#3a3a3a', align: 'center', verticalAlign: 'middle' }
    },
    {
      type: 'ellipse', silent: true, z: 100,
      shape: { cx: 220, cy: 84, rx: 105, ry: 73 },
      style: { fill: 'none', stroke: '#f09cc6', lineWidth: 13, opacity: 0.92 }
    },
    {
      type: 'ellipse', silent: true, z: 100,
      shape: { cx: 1248, cy: 524, rx: 105, ry: 57 },
      style: { fill: 'none', stroke: '#f09cc6', lineWidth: 13, opacity: 0.92 }
    }
  ]
});
</script>
</body>
</html>
